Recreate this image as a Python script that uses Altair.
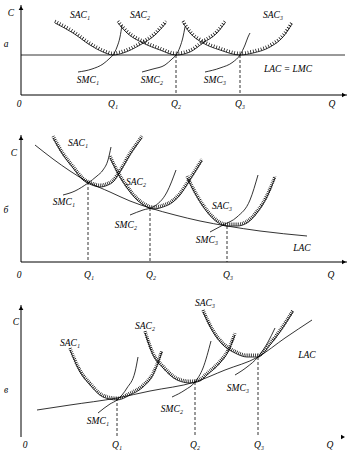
import altair as alt
import pandas as pd

FONT = "Liberation Serif"
Q_DOMAIN = [-21, 330]

# ---------------- Panel а : constant returns to scale ----------------
A_CURVES = {
    "LAC": ("LAC", [0, 324], [40, 40]),
    "SAC1": ("SAC", [34, 52, 69, 82, 92, 102, 119, 134, 145], [72, 62, 50, 43, 40, 42, 50, 60, 72]),
    "SMC1": ("SMC", [57, 71, 82, 89, 92, 96, 99, 101], [23, 26, 31, 37, 40, 48, 58, 70]),
    "SAC2": ("SAC", [97, 106, 122, 139, 155, 169, 182, 196, 204], [72, 62, 52, 45, 40, 43, 52, 62, 72]),
    "SMC2": ("SMC", [121, 132, 144, 151, 155, 159, 162, 164], [23, 26, 30, 36, 40, 48, 58, 68]),
    "SAC3": ("SAC", [162, 169, 182, 199, 219, 232, 249, 262, 271], [72, 62, 52, 45, 40, 42, 48, 58, 71]),
    "SMC3": ("SMC", [184, 199, 212, 219, 224, 227, 229], [23, 27, 33, 40, 50, 58, 62]),
}
A_DASH_Q = [155, 219]
A_DASH_C = [40, 40]
A_TICK_Q = [92, 155, 219]
A_LABELS = [
    ("SAC₁", 59, 80), ("SAC₂", 119, 80), ("SAC₃", 252, 80),
    ("SMC₁", 67, 15), ("SMC₂", 131, 15), ("SMC₃", 194, 15),
    ("LAC = LMC", 267, 26), ("C", -10, 82), ("а", -15, 51),
]

# ---------------- Panel б : economies of scale ----------------
B_CURVES = {
    "LAC": ("LAC", [14, 32, 49, 67, 89, 109, 129, 154, 179, 206, 239, 286],
            [117, 103, 91, 80, 70, 61, 54, 47, 41, 36, 31, 26]),
    "SAC1": ("SAC", [32, 42, 52, 62, 71, 79, 87, 92, 99, 109, 121],
             [124, 107, 94, 82, 77, 75, 77, 80, 90, 107, 124]),
    "SMC1": ("SMC", [42, 54, 67, 76, 82, 87, 90], [67, 71, 79, 86, 92, 102, 115]),
    "SAC2": ("SAC", [89, 96, 106, 116, 126, 132, 142, 152, 159, 169, 181],
             [104, 90, 74, 62, 55, 53, 55, 60, 67, 82, 101]),
    "SMC2": ("SMC", [109, 122, 132, 146, 155], [47, 52, 55, 70, 92]),
    "SAC3": ("SAC", [166, 176, 186, 196, 206, 216, 226, 236, 246, 254],
             [84, 65, 50, 40, 36, 36, 39, 49, 65, 84]),
    "SMC3": ("SMC", [189, 202, 216, 229, 237], [30, 37, 45, 62, 87]),
}
B_DASH_Q = [67, 129, 206]
B_DASH_C = [80, 54, 36]
B_TICK_Q = [68, 130, 207]
B_LABELS = [
    ("SAC₁", 57, 119), ("SAC₂", 115, 80), ("SAC₃", 201, 56),
    ("SMC₁", 43, 60), ("SMC₂", 105, 37), ("SMC₃", 186, 22),
    ("LAC", 281, 14), ("C", -7, 109), ("б", -15, 52),
]

# ---------------- Panel в : diseconomies of scale ----------------
C_CURVES = {
    "LAC": ("LAC", [16, 49, 96, 129, 174, 204, 237, 264, 291], [27, 32, 39, 46, 55, 67, 80, 99, 117]),
    "SAC1": ("SAC", [49, 59, 69, 82, 96, 109, 122, 132, 141], [87, 65, 52, 40, 37, 42, 50, 62, 85]),
    "SMC1": ("SMC", [77, 89, 96, 106, 114, 117], [24, 33, 37, 49, 65, 80]),
    "SAC2": ("SAC", [124, 132, 142, 156, 169, 179, 186, 199, 207, 214],
             [104, 82, 69, 57, 54, 56, 62, 74, 85, 102]),
    "SMC2": ("SMC", [151, 164, 174, 182, 190], [40, 47, 55, 69, 96]),
    "SAC3": ("SAC", [182, 192, 202, 214, 226, 237, 249, 259, 272],
             [125, 105, 92, 84, 80, 80, 92, 105, 125]),
    "SMC3": ("SMC", [214, 226, 237, 247, 254], [62, 70, 80, 95, 109]),
}
C_DASH_Q = [96, 174, 237]
C_DASH_C = [39, 55, 80]
C_TICK_Q = [96, 174, 238]
C_LABELS = [
    ("SAC₁", 49, 94), ("SAC₂", 124, 111), ("SAC₃", 184, 134),
    ("SMC₁", 77, 16), ("SMC₂", 151, 28), ("SMC₃", 217, 49),
    ("LAC", 286, 82), ("C", -5, 115), ("в", -15, 47),
]
TICK_NAMES = ["Q₁", "Q₂", "Q₃"]


def panel(curves, dash_q, dash_c, tick_q, labels, tick_c, zero_q, q_label,
          y_top, x_end, x_line, c_dom, h, hatch_gap):
    rows = []
    for name, (kind, qs, cs) in curves.items():
        for i, (q, c) in enumerate(zip(qs, cs)):
            rows.append(dict(curve=name, kind=kind, i=i, Q=q, C=c))
    df = pd.DataFrame(rows)

    xs = alt.Scale(domain=Q_DOMAIN, nice=False, zero=False)
    ys = alt.Scale(domain=c_dom, nice=False, zero=False)
    X = alt.X("Q:Q", scale=xs, axis=None)
    Y = alt.Y("C:Q", scale=ys, axis=None)

    base = alt.Chart(df)
    lines = base.mark_line(interpolate="monotone", color="black", strokeWidth=0.8).encode(
        x=X, y=Y, detail="curve:N", order="i:Q")
    hatch = base.transform_filter(alt.datum.kind == "SAC").mark_line(
        interpolate="monotone", color="black", strokeWidth=3.2,
        strokeDash=[0.7, hatch_gap], yOffset=-1.8).encode(x=X, y=Y, detail="curve:N", order="i:Q")

    dash_df = pd.DataFrame({"Q": dash_q, "C": dash_c, "C0": [0] * len(dash_q)})
    dashes = alt.Chart(dash_df).mark_rule(color="black", strokeWidth=0.8,
                                          strokeDash=[3, 2]).encode(x=X, y=Y, y2="C0:Q")

    yax = alt.Chart(pd.DataFrame({"Q": [0], "C": [0], "C2": [y_top]})).mark_rule(
        color="black", strokeWidth=1).encode(x=X, y=Y, y2="C2:Q")
    layers = [dashes, lines, hatch, yax]
    if x_line:
        xax = alt.Chart(pd.DataFrame({"Q": [0], "Q2": [x_end], "C": [0]})).mark_rule(
            color="black", strokeWidth=1).encode(x=X, x2="Q2:Q", y=Y)
        layers.append(xax)

    arr_df = pd.DataFrame({"Q": [0, x_end - 3], "C": [y_top - 3, 0],
                           "shape": ["triangle-up", "triangle-right"]})
    arrows = alt.Chart(arr_df).mark_point(filled=True, color="black", opacity=1, size=22).encode(
        x=X, y=Y, shape=alt.Shape("shape:N", scale=None))
    layers.append(arrows)

    txt = [(t, q, c) for t, q, c in labels]
    txt += [(n, q, tick_c) for n, q in zip(TICK_NAMES, tick_q)]
    txt += [("0", zero_q, tick_c), ("Q", q_label, tick_c)]
    tdf = pd.DataFrame(txt, columns=["t", "Q", "C"])
    texts = alt.Chart(tdf).mark_text(font=FONT, fontStyle="italic", fontSize=9.5,
                                     color="black", align="center", baseline="middle").encode(
        x=X, y=Y, text="t:N")
    layers.append(texts)

    return alt.layer(*layers).properties(width=351, height=h)


p1 = panel(A_CURVES, A_DASH_Q, A_DASH_C, A_TICK_Q, A_LABELS, -9, -2, 311,
           90, 326, True, [-25, 95], 120, 2.0)
p2 = panel(B_CURVES, B_DASH_Q, B_DASH_C, B_TICK_Q, B_LABELS, -13, -2, 310,
           127, 326, True, [-28, 142], 170, 1.2)
p3 = panel(C_CURVES, C_DASH_Q, C_DASH_C, C_TICK_Q, C_LABELS, -8, 4, 309,
           132, 325, False, [-22, 147], 169, 1.2)

chart = alt.vconcat(p1, p2, p3, spacing=0, bounds="flush").properties(
    padding=0, background="white"
).configure_view(stroke=None)

chart.save("out.html", embed_options={"renderer": "svg", "actions": False})
